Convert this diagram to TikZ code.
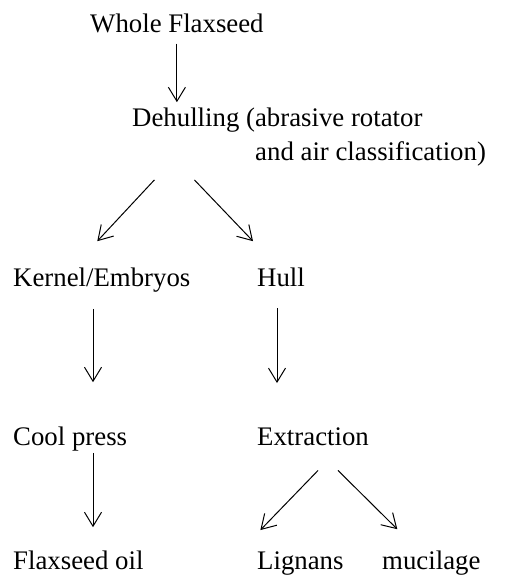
\documentclass[tikz,border=0pt]{standalone}
\usepackage{fontspec}
\setmainfont{Liberation Serif}
\usepackage{tikz}
\usetikzlibrary{arrows.meta,calc}

\begin{document}
\begin{tikzpicture}[x=1pt,y=1pt,>={Straight Barb[length=14pt,width=17pt]},
  lbl/.style={anchor=base west,inner sep=0pt,font=\fontsize{26.8}{30}\selectfont},
  flow/.style={->,line width=1pt}]
  \useasboundingbox (0,0) rectangle (530,-575);
  % stages
  \node[lbl] (whole) at (90,-33) {Whole Flaxseed};
  \node[lbl] (dehull) at (132,-127) {Dehulling (abrasive rotator};
  \node[lbl] (dehullb) at (255,-160) {and air classification)};
  \node[lbl] (kernel) at (13,-286) {Kernel/Embryos};
  \node[lbl] (hull) at (257,-286) {Hull};
  \node[lbl] (cool) at (13,-445) {Cool press};
  \node[lbl] (extract) at (257,-445) {Extraction};
  \node[lbl] (oil) at (13,-569) {Flaxseed oil};
  \node[lbl] (lignans) at (257,-569) {Lignans};
  \node[lbl] (mucilage) at (382,-569) {mucilage};
  % helper points
  \coordinate (colA) at (93,0);
  \coordinate (colB) at (277,0);
  \coordinate (dsplit) at ($(whole.south |- dehullb.south)+(-2.5,-14)$);
  \coordinate (esplit) at ($(extract.south)+(15,-25)$);
  % dehulling
  \draw[flow,shorten <=10pt,shorten >=6pt] (whole.south) -- (whole.south |- dehull.north);
  \draw[flow] ([xshift=-20pt]dsplit) -- ([shift={(-4.5,26)}]kernel.north);
  \draw[flow] ([xshift=20pt]dsplit) -- ([shift={(-28,26)}]hull.north);
  % kernel / hull
  \draw[flow,shorten <=17pt,shorten >=44pt] (colA |- kernel.south) -- (colA |- cool.north);
  \draw[flow,shorten <=22pt,shorten >=44pt] (colB |- hull.south) -- (colB |- extract.north);
  % products
  \draw[flow,shorten <=2pt,shorten >=23pt] (colA |- cool.south) -- (colA |- oil.north);
  \draw[flow] ([xshift=-10pt]esplit) -- ([shift={(-40,21)}]lignans.north);
  \draw[flow] ([xshift=10pt]esplit) -- ([shift={(-34,21)}]mucilage.north);
\end{tikzpicture}
\end{document}
